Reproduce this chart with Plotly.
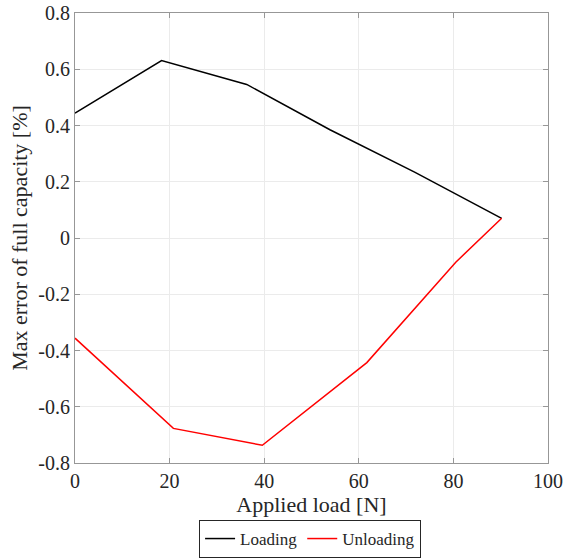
import plotly.graph_objects as go

# Applied load [N] and max error [% of full capacity]
load_loading = [0, 18.3, 36.3, 53.9, 71.8, 90.2]
err_loading = [0.444, 0.631, 0.546, 0.385, 0.234, 0.07]

load_unloading = [0, 20.8, 39.6, 61.7, 80.5, 90.2]
err_unloading = [-0.356, -0.677, -0.737, -0.443, -0.086, 0.07]

x_ticks = [0, 20, 40, 60, 80, 100]
y_ticks = [-0.8, -0.6, -0.4, -0.2, 0, 0.2, 0.4, 0.6, 0.8]
y_labels = ["-0.8", "-0.6", "-0.4", "-0.2", "0", "0.2", "0.4", "0.6", "0.8"]

serif = "Liberation Serif"
text_col = "#262626"
axis_col = "#979797"
grid_col = "#ebebeb"

fig = go.Figure()
fig.add_trace(go.Scatter(x=load_loading, y=err_loading, mode="lines",
                         name="Loading", line=dict(color="black", width=1.5)))
fig.add_trace(go.Scatter(x=load_unloading, y=err_unloading, mode="lines",
                         name="Unloading", line=dict(color="#ff0000", width=1.5)))

axis_common = dict(showline=True, linecolor=axis_col, linewidth=1.2, mirror="ticks",
                   ticks="inside", ticklen=5, tickcolor=axis_col,
                   showgrid=True, gridcolor=grid_col, gridwidth=1,
                   zeroline=False, automargin=False,
                   tickfont=dict(family=serif, size=20, color=text_col))

fig.update_xaxes(range=[0, 100], tickvals=x_ticks,
                 title=dict(text="Applied load [N]",
                            font=dict(family=serif, size=22, color=text_col), standoff=4),
                 **axis_common)
fig.update_yaxes(range=[-0.8, 0.8], tickvals=y_ticks, ticktext=y_labels,
                 title=dict(text="Max error of full capacity [%]",
                            font=dict(family=serif, size=22, color=text_col), standoff=4),
                 **axis_common)

fig.update_layout(
    width=565, height=558,
    margin=dict(l=75, r=17, t=13, b=95),
    plot_bgcolor="white", paper_bgcolor="white",
    font=dict(family=serif, color=text_col),
    showlegend=True,
    legend=dict(orientation="h", x=0.497, xanchor="center",
                yref="container", y=0.0, yanchor="bottom",
                bordercolor=text_col, borderwidth=1,
                font=dict(family=serif, size=17, color=text_col),
                itemwidth=30, tracegroupgap=0, itemclick=False),
)

fig.write_html("out.html")
